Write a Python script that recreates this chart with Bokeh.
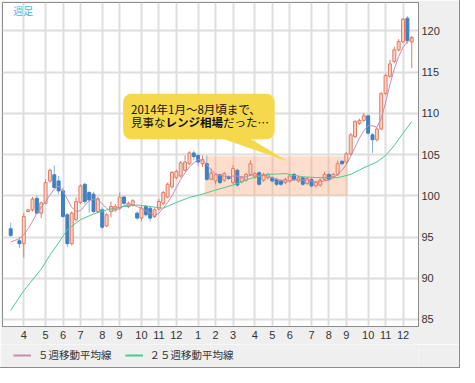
from bokeh.plotting import figure
from bokeh.layouts import column
from bokeh.models import (ColumnDataSource, FixedTicker, Range1d, Legend, LegendItem,
                          Label, BoxAnnotation)
from bokeh.embed import file_html
from bokeh.resources import INLINE

# ---------------- data (weekly USD/JPY, week 0 = first week of Apr 2013) ----------------
week = [-3, -1, 0, 1, 2, 3, 4, 5, 6, 7, 8, 9, 10, 11, 12, 13, 14, 15, 16, 17, 18, 19, 20,
        21, 22, 23, 24, 25, 26, 27, 28, 29, 30, 31, 32, 33, 34, 35, 36, 37, 38, 39, 40,
        41, 42, 43, 44, 45, 46, 47, 48, 49, 50, 51, 52, 53, 54, 55, 56, 57, 58, 59, 60,
        61, 62, 63, 64, 65, 66, 67, 68, 69, 70, 71, 72, 73, 74, 75, 76, 77, 78, 79, 80,
        81, 82, 83, 84, 85, 86, 87, 88, 89]
open_ = [96.0, 94.55, 94.2, 98.1, 98.3, 99.7, 97.9, 99.1, 101.8, 102.55, 101.8, 100.6, 97.7,
         94.2, 97.1, 99.2, 101.4, 100.4, 100.2, 98.1, 98.3, 96.35, 98.1, 98.3, 98.5, 99.85,
         98.7, 98.9, 97.9, 97.3, 98.7, 98.5, 97.5, 98.4, 99.1, 99.85, 101.1, 102.2, 102.4,
         103.1, 103.9, 105.2, 104.9, 103.9, 103.9, 102.0, 101.8, 102.55, 101.9, 102.35,
         101.6, 103.1, 101.7, 101.9, 102.6, 102.3, 102.8, 101.9, 102.2, 102.2, 102.0, 101.8,
         101.6, 101.8, 102.6, 101.8, 102.2, 101.5, 102.0, 101.2, 101.3, 102.0, 102.6, 102.3,
         102.6, 104.2, 104.1, 105.1, 107.2, 108.8, 109.15, 109.7, 107.4, 106.8, 108.1, 112.4,
         114.5, 116.3, 117.7, 118.7, 121.55, 118.65]
high = [96.75, 95.0, 97.9, 98.4, 99.85, 100.0, 99.3, 102.0, 103.3, 103.7, 102.4, 101.0, 97.9,
        98.1, 99.8, 101.4, 101.6, 100.6, 100.5, 99.9, 98.6, 97.9, 99.3, 99.0, 100.4, 100.0,
        99.3, 99.6, 98.1, 98.8, 98.9, 98.7, 98.5, 99.65, 100.6, 101.6, 103.0, 103.2, 104.2,
        104.9, 105.4, 105.5, 105.1, 104.9, 104.9, 103.3, 102.7, 102.7, 102.9, 102.5, 103.7,
        103.3, 102.4, 102.8, 104.3, 102.9, 103.0, 102.8, 102.8, 102.4, 102.2, 102.0, 102.2,
        102.6, 102.8, 102.4, 102.4, 102.3, 102.2, 101.8, 102.1, 102.95, 102.8, 102.8, 104.3,
        104.3, 105.3, 107.6, 109.2, 109.35, 110.05, 109.9, 107.6, 108.3, 112.6, 114.8, 116.5,
        118.1, 119.0, 121.6, 121.8, 119.4]
low = [95.0, 93.65, 92.5, 98.0, 98.1, 97.8, 97.3, 99.0, 101.6, 100.9, 100.2, 97.3, 93.8,
       94.0, 96.9, 99.0, 99.0, 98.0, 97.9, 97.9, 96.0, 96.2, 97.4, 98.1, 98.3, 98.9, 98.5,
       98.7, 97.1, 96.9, 97.5, 96.9, 97.3, 98.2, 98.9, 99.7, 100.9, 102.0, 102.2, 102.9,
       103.7, 104.3, 103.6, 103.5, 101.8, 101.9, 101.4, 101.4, 101.7, 101.9, 101.4, 101.1,
       101.5, 101.7, 102.4, 102.1, 101.2, 101.7, 102.0, 101.6, 101.2, 101.2, 101.4, 101.6,
       101.8, 101.6, 101.2, 101.3, 101.0, 101.0, 101.1, 101.8, 101.8, 102.1, 102.4, 103.7,
       103.9, 104.9, 107.0, 108.6, 109.0, 107.4, 105.2, 106.6, 108.0, 112.2, 114.3, 116.1,
       117.5, 118.5, 118.45, 115.5]
close = [95.2, 94.2, 97.5, 98.3, 99.6, 97.9, 99.15, 101.6, 103.1, 101.0, 100.6, 97.5, 94.2,
         97.9, 99.3, 101.2, 99.3, 99.5, 98.1, 99.65, 96.2, 97.7, 98.7, 98.7, 99.85, 99.1,
         99.1, 99.4, 97.3, 98.5, 97.7, 97.3, 98.3, 99.3, 100.4, 101.4, 102.85, 102.95, 104.0,
         104.1, 105.2, 104.75, 104.1, 104.4, 102.0, 102.75, 102.55, 101.6, 102.7, 102.1,
         103.3, 101.3, 102.2, 102.6, 103.9, 102.7, 101.4, 102.6, 102.6, 101.8, 101.4, 101.4,
         102.0, 102.4, 102.0, 102.2, 101.4, 102.1, 101.2, 101.6, 101.9, 102.6, 102.0, 102.6,
         103.9, 103.9, 105.1, 107.4, 109.0, 109.15, 109.7, 107.6, 106.8, 108.1, 112.4, 114.6,
         116.0, 117.7, 118.7, 121.4, 118.8, 119.2]

# 5-week moving average
ma5 = [94.4, 94.8, 95.3, 96.0, 96.9, 97.9, 98.6, 99.3, 100.1, 100.8, 101.2, 100.6, 99.6,
       98.6, 98.1, 98.2, 98.8, 99.4, 99.6, 99.6, 99.0, 98.5, 98.1, 98.2, 98.5, 98.8, 98.9,
       98.9, 98.7, 98.5, 98.2, 97.9, 97.6, 97.9, 98.5, 99.2, 100.0, 101.0, 102.0, 102.8,
       103.5, 104.0, 104.4, 104.3, 103.8, 103.1, 102.7, 102.5, 102.4, 102.3, 102.4, 102.4,
       102.3, 102.3, 102.5, 102.5, 102.4, 102.5, 102.4, 102.2, 102.0, 101.9, 101.8, 101.8,
       101.9, 102.0, 101.9, 101.9, 101.8, 101.7, 101.7, 101.8, 101.9, 102.2, 102.6, 103.1,
       103.8, 104.8, 105.9, 107.0, 107.9, 108.5, 108.5, 108.3, 109.4, 111.3, 113.5, 115.4,
       116.9, 118.0, 118.7, 119.1]

# 25-week moving average
ma25_week = [-3, 0, 4, 6, 8, 10, 13, 16, 19, 23, 26, 29, 32, 35, 38, 41, 44, 48, 52, 56,
             60, 64, 68, 72, 75, 78, 81, 83, 85, 87, 89]
ma25 = [86.1, 88.5, 91.1, 92.8, 94.3, 95.9, 97.1, 97.8, 98.3, 98.7, 98.9, 98.7, 98.5, 99.2,
        99.8, 100.2, 100.7, 101.3, 102.1, 102.6, 102.7, 102.3, 102.2, 102.2, 102.6, 103.4,
        104.1, 104.9, 106.1, 107.6, 109.0]

# x-axis: first week of every month
month_tick_weeks = [0, 5, 9, 13, 18, 22, 27, 31, 35, 40, 44, 48, 53, 57, 61, 66, 70, 74, 79, 83, 87]
month_labels = ["4", "5", "6", "7", "8", "9", "10", "11", "12", "1", "2", "3",
                "4", "5", "6", "7", "8", "9", "10", "11", "12"]
price_ticks = [85, 90, 95, 100, 105, 110, 115, 120]

# highlighted range period (Jan–Aug 2014)
range_start_week, range_end_week = 41.5, 74.3
range_low, range_high = 100.0, 104.8

# ---------------- styling ----------------
RED_LINE = "#e27c62"
RED_FILL = "#f7d3c6"
BLUE = "#3f80c0"
BLUE_WICK = "#86b4df"
MA5_COLOR = "#c98bb0"
MA25_COLOR = "#4fc98e"
GRID = "#dedede"
BAND = "#efefef"
JP = "Noto Sans CJK JP"
NUM = "Liberation Sans"

up = [c >= o for o, c in zip(open_, close)]
src = ColumnDataSource(dict(
    x=week, o=open_, h=high, l=low, c=close,
    top=[max(o, c) for o, c in zip(open_, close)],
    bottom=[min(o, c) for o, c in zip(open_, close)],
    fill=[RED_FILL if u else BLUE for u in up],
    line=[RED_LINE if u else BLUE for u in up],
    wick=[RED_LINE if u else BLUE_WICK for u in up],
))

p = figure(width=459, height=344, output_backend="svg", toolbar_location=None,
           x_range=Range1d(-4.88, 90.55), y_range=Range1d(84.15, 123.45),
           y_axis_location="right",
           min_border_left=2, min_border_top=2, min_border_right=41, min_border_bottom=18)
p.border_fill_color = BAND
p.background_fill_color = "white"
p.outline_line_color = "#8c8c8c"

# axes
p.xaxis.ticker = FixedTicker(ticks=month_tick_weeks)
p.xaxis.major_label_overrides = {w: l for w, l in zip(month_tick_weeks, month_labels)}
p.yaxis.ticker = FixedTicker(ticks=price_ticks)
for ax in (p.xaxis[0], p.yaxis[0]):
    ax.major_tick_line_color = None
    ax.minor_tick_line_color = None
    ax.major_tick_out = 0
    ax.major_tick_in = 0
    ax.axis_line_color = "#8c8c8c"
    ax.major_label_text_font = NUM
    ax.major_label_text_font_size = "11px"
    ax.major_label_text_color = "#333333"
p.xaxis.major_label_standoff = 4
p.yaxis.major_label_standoff = 3

p.xgrid.grid_line_color = GRID
p.ygrid.grid_line_color = GRID
p.xgrid.grid_line_width = 2
p.ygrid.grid_line_width = 2

# highlighted range
p.add_layout(BoxAnnotation(left=range_start_week, right=range_end_week,
                           bottom=range_low, top=range_high,
                           fill_color="#f9a878", fill_alpha=0.38, line_color=None,
                           level="underlay"))

# candles
p.segment(x0="x", x1="x", y0="l", y1="h", source=src, line_color="wick", line_width=1)
p.vbar(x="x", width=0.68, top="top", bottom="bottom", source=src,
       fill_color="fill", line_color="line", line_width=1)

# moving averages
r5 = p.line(week, ma5, line_color=MA5_COLOR, line_width=1)
r25 = p.line(ma25_week, ma25, line_color=MA25_COLOR, line_width=1)

# callout
CALLOUT = "#f5d84c"
p.add_layout(BoxAnnotation(left=22.8, right=57.55, bottom=106.86, top=112.37,
                           fill_color=CALLOUT, fill_alpha=1, line_color=None,
                           border_radius=8))
p.patch([44.6, 51.4, 60.6], [107.1, 107.1, 104.15], fill_color=CALLOUT,
        line_color=None, level="overlay")

fs = 11.5
p.add_layout(Label(x=24.6, y=110.55, text="2014年1月～8月頃まで、", text_font=JP,
                   text_font_size=f"{fs}px", text_baseline="middle", text_color="#111111"))
p.add_layout(Label(x=24.6, y=109.0, text="見事な", text_font=JP,
                   text_font_size=f"{fs}px", text_baseline="middle", text_color="#111111"))
p.add_layout(Label(x=24.6, y=109.0, x_offset=3 * fs, text="レンジ相場", text_font=JP,
                   text_font_size=f"{fs}px", text_font_style="bold",
                   text_baseline="middle", text_color="#111111"))
p.add_layout(Label(x=24.6, y=109.0, x_offset=8 * fs, text="だった…", text_font=JP,
                   text_font_size=f"{fs}px", text_baseline="middle", text_color="#111111"))

# chart type label
p.add_layout(Label(x=-2.44, y=122.5, text="週足", text_font=JP, text_font_size="10px",
                   text_baseline="middle", text_color="#4cb8ec"))

# ---------------- legend strip below the chart ----------------
lg = figure(width=459, height=23, output_backend="svg", toolbar_location=None,
            x_range=Range1d(0, 1), y_range=Range1d(0, 1),
            x_axis_location=None, y_axis_location=None,
            min_border_left=0, min_border_right=0, min_border_top=0, min_border_bottom=0)
lg.grid.visible = False
lg.border_fill_color = BAND
lg.background_fill_color = BAND
lg.outline_line_color = None
# legend swatches only (placed outside the strip's visible range)
leg5 = lg.line([0, 1], [-5, -5], line_color=MA5_COLOR, line_width=2)
leg25 = lg.line([0, 1], [-5, -5], line_color=MA25_COLOR, line_width=2)
legend = Legend(items=[LegendItem(label="５週移動平均線", renderers=[leg5]),
                       LegendItem(label="２５週移動平均線", renderers=[leg25])],
                location=(11, 5), orientation="horizontal",
                glyph_width=18, glyph_height=14, label_height=14, label_standoff=7,
                spacing=13, padding=0, margin=0,
                background_fill_alpha=0, border_line_color=None,
                label_text_font=JP, label_text_font_size="10.5px",
                label_text_color="#333333")
lg.add_layout(legend, "center")

page = column(p, lg, spacing=0)
page.styles = {"box-shadow": "0 0 0 1px #8c8c8c"}

open("out.html", "w").write(file_html(page, INLINE))
